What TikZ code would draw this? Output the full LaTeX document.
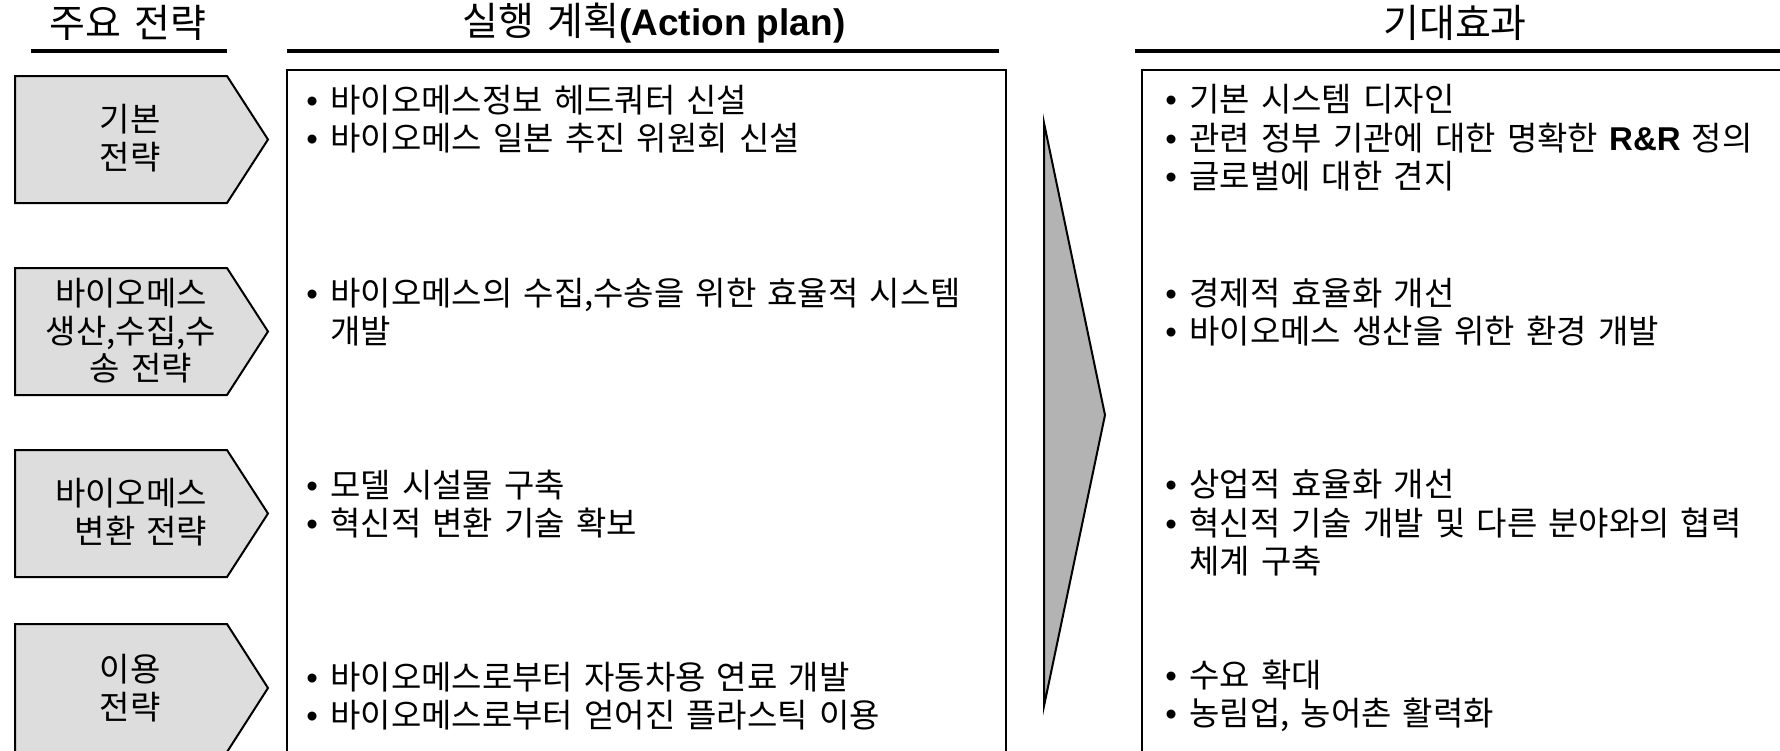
\documentclass[tikz,border=0pt]{standalone}
\usepackage{fontspec}
\setmainfont{Noto Sans CJK KR}[WordSpace=1.5]
\newfontfamily\latinfont{Liberation Sans}
\usetikzlibrary{positioning}
\definecolor{pentgray}{RGB}{221,221,221}
\definecolor{wedgegray}{RGB}{179,179,179}
\tikzset{
  headtext/.style={font=\fontsize{19.5}{23}\selectfont,inner sep=0pt},
  headrule/.style={line width=1.75pt},
  panel/.style={draw,line width=1.25pt},
  stratbox/.style={draw,fill=pentgray,line width=1pt},
  wedge/.style={draw,fill=wedgegray,line width=1pt},
  strattext/.style={font=\fontsize{16.5}{18.75}\selectfont,align=center,inner sep=0pt},
  itemtext/.style={font=\fontsize{16.5}{19.25}\selectfont,align=left,inner sep=0pt,anchor=west},
}
\newcommand{\bul}{\makebox[12pt][l]{\latinfont\textbullet}}
\newcommand{\cont}{\hspace*{12pt}}
\newcommand{\pent}[2]{%
  \draw[stratbox] (15,#1) -- (227,#1) -- (268,{(#1+#2)/2}) -- (227,#2) -- (15,#2) -- cycle;}

\begin{document}
\begin{tikzpicture}[x=0.5pt,y=-0.5pt]
  \useasboundingbox (0,0) rectangle (1780,750);
  \clip (0,0) rectangle (1780,750);
  % column heads
  \node[headtext] (hstrat) at (128,23) {주요 전략};
  \node[headtext] (hplan) at (654,23) {실행 계획{\latinfont\bfseries\fontsize{18.5}{23}\selectfont(Action plan)}};
  \node[headtext] (heffect) at (1455,23) {기대효과};
  \draw[headrule] (31,51) -- (227,51);
  \draw[headrule] (287,51) -- (999,51);
  \draw[headrule] (1135,51) -- (1780,51);
  % panels and wedge
  \draw[panel] (287,70) rectangle (1006,790);
  \draw[panel] (1142,70) rectangle (1800,790);
  \draw[wedge] (1044,123) -- (1105,415) -- (1044,706) -- cycle;
  % strategies
  \pent{76}{203}\pent{268}{395}\pent{450}{577}\pent{624}{752}
  \node[strattext] (strat1) at (130,138) {기본\\전략};
  \node[strattext] (strat2) at (131,331) {바이오메스\\생산,수집,수\\\hspace*{10pt}송 전략};
  \node[strattext] (strat3) at (131,512) {바이오메스\\\hspace*{10pt}변환 전략};
  \node[strattext] (strat4) at (130,688) {이용\\전략};
  % action plan
  \node[itemtext] (plan1) at (306,119) {\bul 바이오메스정보 헤드쿼터 신설\\\bul 바이오메스 일본 추진 위원회 신설};
  \node[itemtext] (plan2) at (306,312) {\bul 바이오메스의 수집,수송을 위한 효율적 시스템\\\cont 개발};
  \node[itemtext] (plan3) at (306,504) {\bul 모델 시설물 구축\\\bul 혁신적 변환 기술 확보};
  \node[itemtext] (plan4) at (306,696) {\bul 바이오메스로부터 자동차용 연료 개발\\\bul 바이오메스로부터 얻어진 플라스틱 이용};
  % expected effects
  \node[itemtext] (effect1) at (1165,138) {\bul 기본 시스템 디자인\\\bul 관련 정부 기관에 대한 명확한 {\latinfont\bfseries R\&R} 정의\\\bul 글로벌에 대한 견지};
  \node[itemtext] (effect2) at (1165,312) {\bul 경제적 효율화 개선\\\bul 바이오메스 생산을 위한 환경 개발};
  \node[itemtext] (effect3) at (1165,523) {\bul 상업적 효율화 개선\\\bul 혁신적 기술 개발 및 다른 분야와의 협력\\\cont 체계 구축};
  \node[itemtext] (effect4) at (1165,696) {\bul 수요 확대\\\bul 농림업, 농어촌 활력화};
\end{tikzpicture}
\end{document}
